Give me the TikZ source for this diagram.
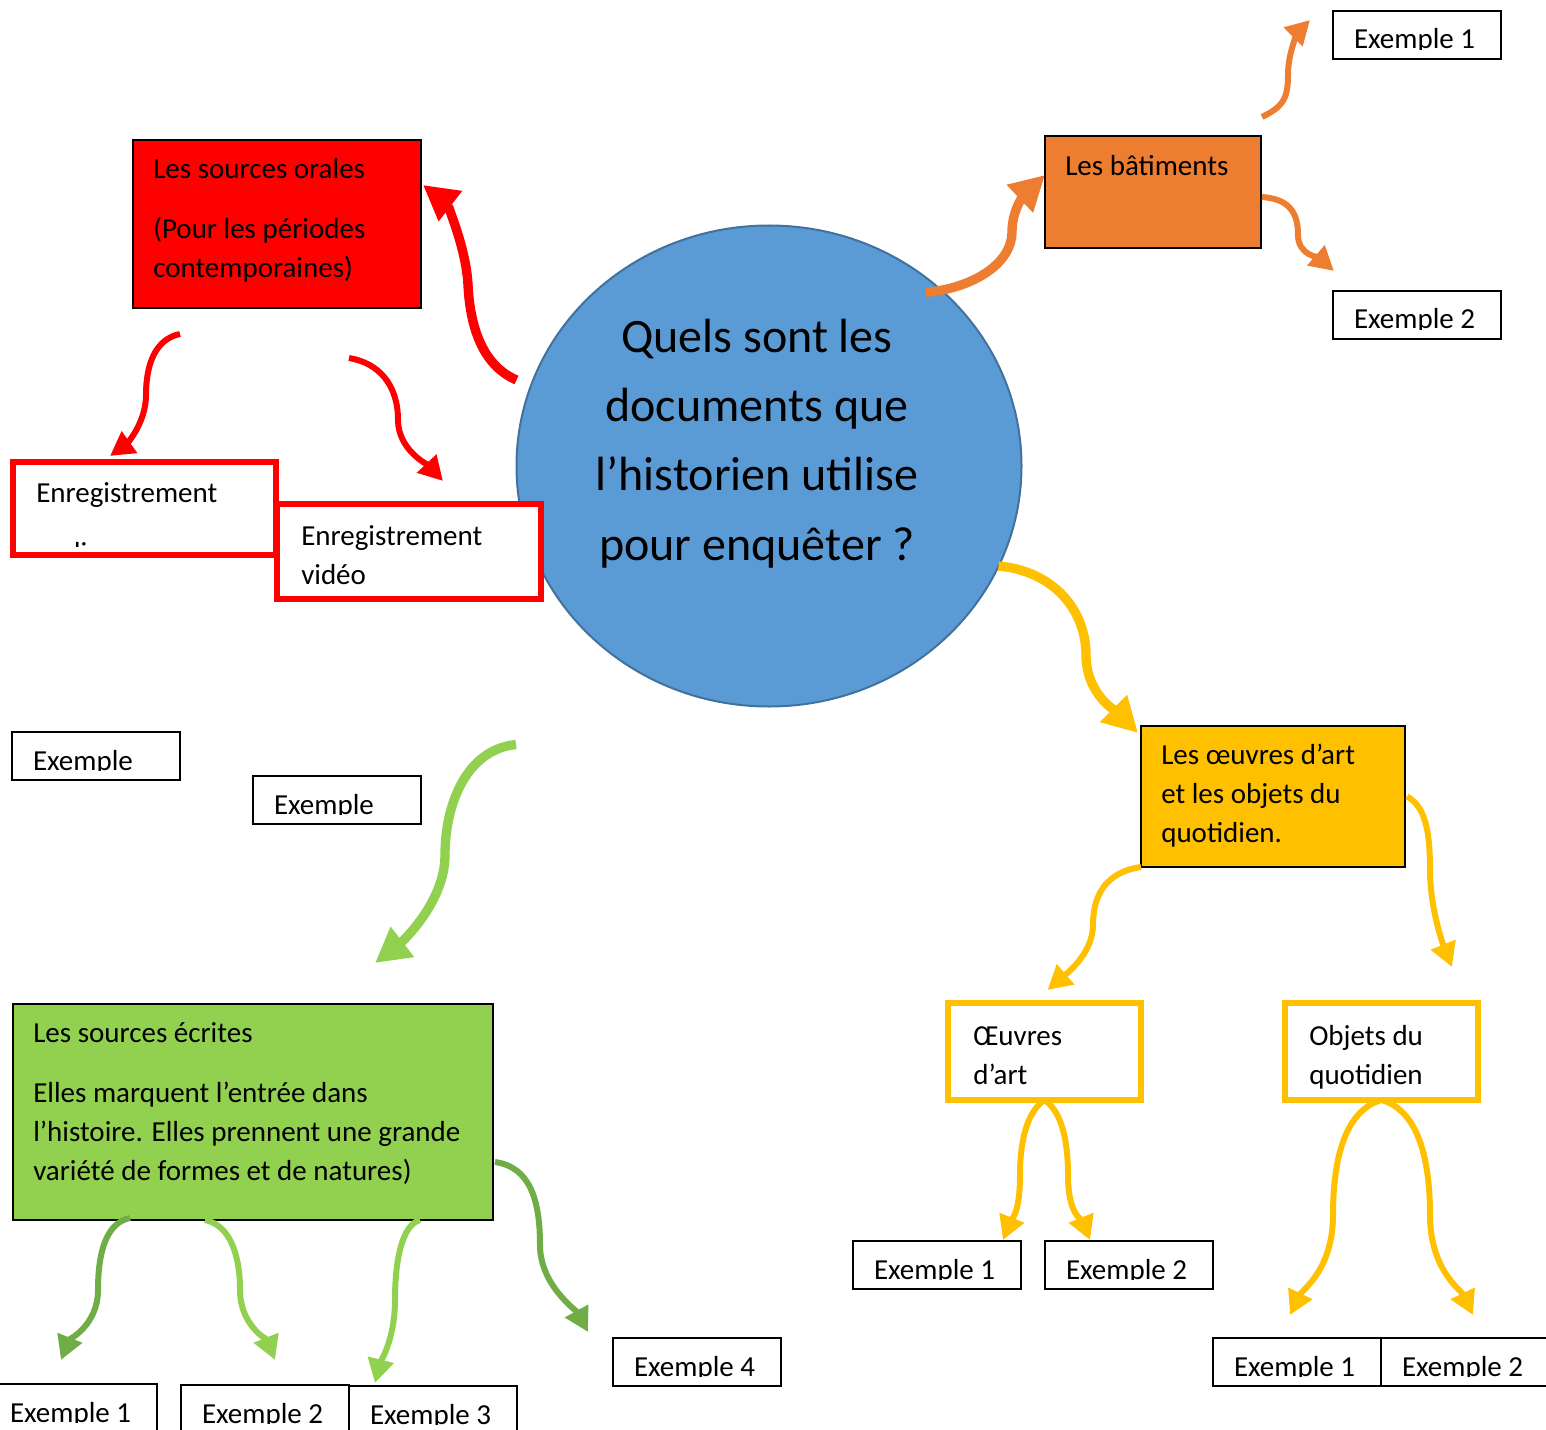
\documentclass[tikz,border=0pt]{standalone}
\usepackage{fontspec}
\setmainfont{Carlito}
\usetikzlibrary{arrows.meta, calc, shapes.geometric}
\definecolor{bleu}{HTML}{5B9BD5}
\definecolor{bleufonce}{HTML}{41719C}
\definecolor{orange}{HTML}{ED7D31}
\definecolor{jaune}{HTML}{FFC000}
\definecolor{vertclair}{HTML}{92D050}
\definecolor{vertfonce}{HTML}{70AD47}
\newcommand\boxfont{\fontsize{21.75}{29.25}\selectfont}

\begin{document}
\begin{tikzpicture}[x=0.75pt, y=-0.75pt,
  textbox/.style={draw=black, line width=1.1pt, anchor=north west, inner sep=0pt, outer sep=0pt},
  thickbox/.style={draw=#1, line width=4.5pt, fill=white, anchor=north west, inner sep=0pt, outer sep=0pt},
  txt/.style={anchor=north west, inner sep=0pt, align=left, font=\boxfont},
  exbox/.style={textbox, fill=white, minimum width=126pt, minimum height=36pt,
    path picture={
      \clip ([yshift=7pt]path picture bounding box.south west) rectangle (path picture bounding box.north east);
      \node[anchor=base west, inner sep=0pt, minimum width=0pt, minimum height=0pt, draw=none, fill=none, font=\boxfont]
        at ([xshift=15.75pt, yshift=7.5pt]path picture bounding box.south west) {#1};}},
  bigarrow/.style={line width=7pt, -{Triangle[length=26pt, width=27pt]}},
  smallarrow/.style={line width=4.5pt, -{Triangle[length=18pt, width=19pt]}}]

\useasboundingbox (0,0) rectangle (1546,1430);

% centre
\node[ellipse, draw=bleufonce, line width=1.5pt, fill=bleu, minimum width=378.75pt, minimum height=360.75pt, inner sep=0pt, outer sep=0pt] (circ) at (769,466) {};
\node[anchor=north, inner sep=0pt, align=center, font=\fontsize{36}{52}\selectfont] (qtxt) at ($(circ.center)+(-12,-162.5)$)
  {\strut Quels sont les\\documents que\\l’historien utilise\\pour enquêter ?};

% sources orales
\node[textbox, fill=red, minimum width=216pt, minimum height=126pt] (oral) at (133,140) {};
\node[txt] (oraltxt) at ($(oral.north west)+(20,10.7)$) {\strut Les sources orales\\[15.75pt](Pour les périodes\\contemporaines)};
\node[thickbox=red, minimum width=197.25pt, minimum height=69.75pt] (audio) at (13,462) {};
\begin{scope}
  \clip (audio.north west) rectangle ($(audio.south east)+(0,-9)$);
  \node[txt] (audiotxt) at ($(audio.north west)+(23,12.7)$) {\strut Enregistrement\\[15.75pt]audio};
\end{scope}
\node[thickbox=red, minimum width=198pt, minimum height=71.25pt] (video) at (277,504) {};
\node[txt] (videotxt) at ($(video.north west)+(24,13.7)$) {\strut Enregistrement\\vidéo};
\node[exbox=Exemple] (orex1) at (12,732) {};
\node[exbox=Exemple] (orex2) at (253,776) {};

% batiments
\node[textbox, fill=orange, minimum width=162pt, minimum height=84pt] (bat) at (1045,136) {};
\node[txt] (battxt) at ($(bat.north west)+(20,11.7)$) {\strut Les bâtiments};
\node[exbox=Exemple 1] (batex1) at (1333,11) {};
\node[exbox=Exemple 2] (batex2) at (1333,291) {};

% oeuvres d'art
\node[textbox, fill=jaune, minimum width=198pt, minimum height=105.75pt] (art) at (1141,726) {};
\node[txt] (arttxt) at ($(art.north west)+(20,10.7)$) {\strut Les œuvres d’art\\et les objets du\\quotidien.};
\node[thickbox=jaune, minimum width=144.75pt, minimum height=72.75pt] (oeuvre) at (948,1003) {};
\node[txt] (oeuvretxt) at ($(oeuvre.north west)+(25,14.7)$) {\strut Œuvres\\d’art};
\node[thickbox=jaune, minimum width=144.75pt, minimum height=72.75pt] (objet) at (1285,1003) {};
\node[txt] (objettxt) at ($(objet.north west)+(24,14.7)$) {\strut Objets du\\quotidien};
\node[exbox=Exemple 1] (artex1) at (853,1241) {};
\node[exbox=Exemple 2] (artex2) at (1045,1241) {};
\node[exbox=Exemple 1] (objex1) at (1213,1338) {};
\node[exbox=Exemple 2] (objex2) at (1381,1338) {};

% sources ecrites
\node[textbox, fill=vertclair, minimum width=360pt, minimum height=162pt] (ecrit) at (13,1004) {};
\node[txt] (ecrittxt) at ($(ecrit.north west)+(20,10.7)$) {\strut Les sources écrites\\[15.75pt]Elles marquent l’entrée dans\\l’histoire. Elles prennent une grande\\variété de formes et de natures)};
\node[exbox=Exemple 1] (ecex1) at (-11,1384) {};
\node[exbox=Exemple 2] (ecex2) at (181,1385) {};
\node[exbox=Exemple 3] (ecex3) at (349,1386) {};
\node[exbox=Exemple 4] (ecex4) at (613,1338) {};

% fleches
\draw[bigarrow, red] ($(circ.west)+(0,-86)$) .. controls +(-35,-15) and +(2,40) .. (468,285)
  .. controls +(-2,-40) and +(22,17) .. ($(oral.north east)+(2,45)$);
\draw[smallarrow, red] ($(oral.south west)+(47,26)$) .. controls +(-25,5) and +(0,-30) .. (146,395)
  .. controls +(0,30) and +(14,-10) .. ($(audio.north west)+(97,-6)$);
\draw[smallarrow, red] ($(oral.south east)+(-72,50)$) .. controls +(30,5) and +(0,-35) .. (398,420)
  .. controls +(0,30) and +(-15,-16) .. ($(video.north west)+(166,-23)$);

\draw[bigarrow, orange] ($(circ.north)+(157,67)$) .. controls +(50,-5) and +(0,30) .. (1012,232)
  .. controls +(0,-25) and +(-18,17) .. ($(bat.west)+(0,-17)$);
\draw[smallarrow, orange] ($(bat.north east)+(1,-19)$) .. controls +(20,-10) and +(0,25) .. (1288,75)
  .. controls +(0,-25) and +(-10,10) .. ($(batex1.west)+(-23,-15)$);
\draw[smallarrow, orange] ($(bat.east)+(1,5)$) .. controls +(25,2) and +(0,-25) .. (1298,235)
  .. controls +(0,20) and +(-15,-13) .. ($(batex2.north west)+(1,-20)$);

\draw[bigarrow, jaune] ($(circ.east)+(-23,100)$) .. controls +(55,5) and +(0,-45) .. (1086,655)
  .. controls +(0,40) and +(-20,-20) .. ($(art.north west)+(-3,7)$);
\draw[smallarrow, jaune] (art.south west) .. controls +(-35,5) and +(0,-30) .. (1093,925)
  .. controls +(0,30) and +(15,-13) .. ($(oeuvre.north)+(3,-13)$);
\draw[smallarrow, jaune] ($(art.east)+(2,0)$) .. controls +(18,10) and +(0,-40) .. (1430,870)
  .. controls +(0,40) and +(-8,-20) .. ($(objet.north east)+(-26,-36)$);
\draw[smallarrow, jaune] (oeuvre.south) .. controls +(-15,10) and +(0,-40) .. (1020,1175)
  .. controls +(0,40) and +(8,-20) .. ($(artex1.north east)+(-18,-1)$);
\draw[smallarrow, jaune] (oeuvre.south) .. controls +(15,10) and +(0,-40) .. (1068,1175)
  .. controls +(0,40) and +(-8,-20) .. ($(artex2.north west)+(45,-1)$);
\draw[smallarrow, jaune] (objet.south) .. controls +(-35,10) and +(0,-60) .. (1333,1215)
  .. controls +(0,55) and +(12,-25) .. ($(objex1.north)+(-7,-23)$);
\draw[smallarrow, jaune] (objet.south) .. controls +(35,10) and +(0,-60) .. (1430,1215)
  .. controls +(0,55) and +(-12,-25) .. ($(objex2.north)+(8,-23)$);

\draw[bigarrow, vertclair] ($(circ.south)+(-253,38)$) .. controls +(-50,5) and +(0,-50) .. (445,855)
  .. controls +(0,50) and +(22,-17) .. ($(ecrit.north west)+(362,-41)$);
\draw[smallarrow, vertfonce] ($(ecrit.south west)+(117,-2)$) .. controls +(-25,5) and +(0,-35) .. (98,1290)
  .. controls +(0,35) and +(8,-20) .. ($(ecex1.north)+(-12,-24)$);
\draw[smallarrow, vertclair] ($(ecrit.south west)+(192,0)$) .. controls +(25,5) and +(0,-35) .. (240,1290)
  .. controls +(0,35) and +(-8,-20) .. ($(ecex2.north)+(10,-25)$);
\draw[smallarrow, vertclair] ($(ecrit.south west)+(407,0)$) .. controls +(-18,5) and +(0,-40) .. (395,1300)
  .. controls +(0,40) and +(5,-20) .. ($(ecex3.north)+(-58,-3)$);
\draw[smallarrow, vertfonce] ($(ecrit.east)+(2,50)$) .. controls +(35,5) and +(0,-45) .. (540,1245)
  .. controls +(0,40) and +(-12,-22) .. ($(ecex4.north west)+(-25,-6)$);
\end{tikzpicture}
\end{document}
